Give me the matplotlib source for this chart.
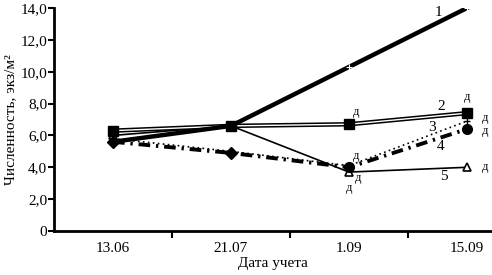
import matplotlib
matplotlib.use("Agg")
import matplotlib.pyplot as plt
import matplotlib.patheffects as pe
from matplotlib.ticker import FixedLocator, NullFormatter

plt.rcParams['font.family'] = ['Liberation Serif', 'DejaVu Serif']

dates = ["13.06", "21.07", "1.09", "15.09"]
s1 = [5.6, 6.6, 10.3, 14.0]
s2 = [6.3, 6.6, 6.7, 7.4]
s3 = [5.8, 5.0, 4.1, 6.9]
s4 = [5.6, 4.9, 4.0, 6.4]
s5 = [6.0, 6.6, 3.7, 4.0]
yticks = [0, 2, 4, 6, 8, 10, 12, 14]
ytick_labels = ["0", "2,0", "4,0", "6,0", "8,0", "10,0", "12,0", "14,0"]

fig = plt.figure(figsize=(4.92, 2.75), dpi=100)
ax = fig.add_axes([54/492, 1-231/275, 1-54/492, (231-8)/275])
x = list(range(len(dates)))

# series 5: thin solid, open triangles
ax.plot(x, s5, color='black', lw=1.2, marker='^', ms=6, mfc='white', mec='black', mew=1.2, zorder=3)
# series 4: thick dash-dot, filled diamond/circles
ax.plot(x, s4, color='black', lw=2.8, ls=(0, (3, 1.5, 0.6, 1.5)), zorder=3)
ax.plot(x[0:2], s4[0:2], ls='none', marker='D', ms=6, color='black', zorder=4)
ax.plot(x[2:], s4[2:], ls='none', marker='o', ms=7, color='black', zorder=4)
# series 3: dotted with small plus markers
ax.plot(x, s3, color='black', lw=1.2, ls=(0, (1, 2)), marker='+', ms=5, mew=1, zorder=3)
# series 2: double line with squares
ax.plot(x, s2, color='black', lw=3.2, zorder=3)
ax.plot(x, s2, color='white', lw=1.0, zorder=3.5)
ax.plot(x, s2, ls='none', marker='s', ms=7, color='black', zorder=4)
# series 1: thick solid
ax.plot(x, s1, color='black', lw=3.2, zorder=5)
ax.plot(x[2:], s1[2:], ls='none', marker='+', ms=5, color='white', mew=0.8, zorder=6)

# number labels
fs = 11
ax.text(2.76, 13.7, "1", fontsize=fs, ha='center', va='center')
ax.text(2.78, 7.8, "2", fontsize=fs, ha='center', va='center')
ax.text(2.70, 6.5, "3", fontsize=fs, ha='center', va='center')
ax.text(2.78, 5.3, "4", fontsize=fs, ha='center', va='center')
ax.text(2.80, 3.4, "5", fontsize=fs, ha='center', va='center')

# "д" labels
dfs = 9
for (xx, yy) in [(2.06, 7.5), (3.0, 8.4), (3.15, 7.1), (3.15, 6.3), (3.15, 4.0),
                 (2.06, 4.7), (2.08, 3.3), (2.0, 2.7)]:
    ax.text(xx, yy, "д", fontsize=dfs, ha='center', va='center')

ax.set_xlim(-0.5, (492-113)/118)
ax.set_ylim(0, 14)
ax.set_yticks(yticks)
ax.set_yticklabels(ytick_labels, fontsize=11)
ax.set_xticks(x)
ax.set_xticklabels(dates, fontsize=11)
ax.xaxis.set_minor_locator(FixedLocator([0.5, 1.5, 2.5]))
ax.xaxis.set_minor_formatter(NullFormatter())
ax.tick_params(axis='x', which='major', length=0, pad=8)
ax.tick_params(axis='x', which='minor', length=5, width=1.5, direction='out')
ax.tick_params(axis='y', which='major', length=4, width=1.5, direction='out', pad=1)
for s in ['top', 'right']:
    ax.spines[s].set_visible(False)
for s in ['left', 'bottom']:
    ax.spines[s].set_linewidth(2)
ax.set_xlabel("Дата учета", fontsize=11, labelpad=1)
ax.set_ylabel("Численность, экз/м²", fontsize=11, labelpad=2)

fig.savefig("out.png", dpi=100)
